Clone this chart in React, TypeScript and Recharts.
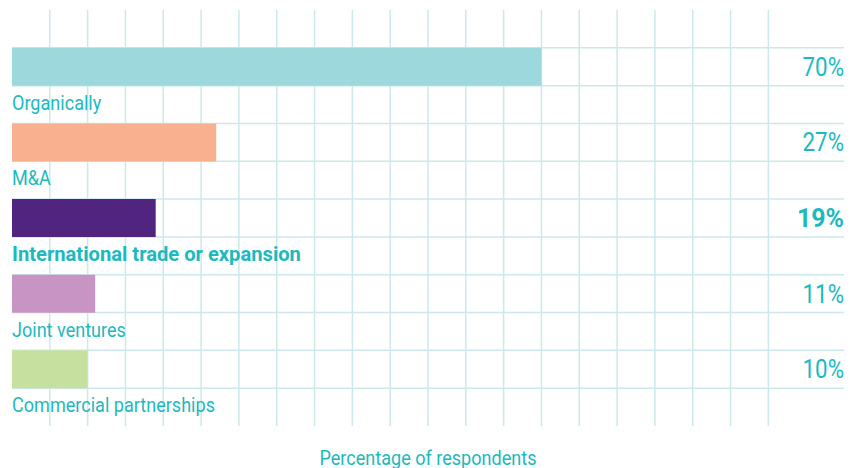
import React from 'react';
import { BarChart, Bar, XAxis, YAxis, CartesianGrid, Cell, LabelList, Label } from 'recharts';

const categories = ['Organically', 'M&A', 'International trade or expansion', 'Joint ventures', 'Commercial partnerships'];
const shares = [70, 27, 19, 11, 10];
const barColors = ['#9dd8dc', '#f8b08f', '#51247f', '#c894c3', '#c6e09f'];
const highlightIndex = 2;
const xTicks = [5, 10, 15, 20, 25, 30, 35, 40, 45, 50, 55, 60, 65, 70, 75, 80, 85, 90, 95, 100];
const X_MAX = 110;

const data = categories.map((name, i) => ({ name, share: shares[i], spacer: 0 }));

const WIDTH = 854;
const HEIGHT = 468;
const MARGIN = { top: 10, right: 10, left: 12, bottom: 0 };
const AXIS_HEIGHT = 42;
const ROWS = 11; // grid cells down the plot
const ROW = (HEIGHT - MARGIN.top - MARGIN.bottom - AXIS_HEIGHT) / ROWS;
const PLOT_RIGHT = WIDTH - MARGIN.right;

const TEAL = '#1cb9be';
const FONT = 'Roboto, sans-serif';
// the original face is a condensed grotesque, so squeeze Roboto sideways
const SQUEEZE = 0.86;
const SQUEEZE_BOLD = 0.96;

const NarrowText = ({ x, y, anchor = 'start', size, bold, children }: any) => (
  <text transform={`translate(${x},${y}) scale(${bold ? SQUEEZE_BOLD : SQUEEZE},1)`} fill={TEAL}
    fontSize={size} fontFamily={FONT} textAnchor={anchor} fontWeight={bold ? 'bold' : 'normal'}>
    {children}
  </text>
);

const NameLabel = (props: any) => {
  const { x, y, height, index, value } = props;
  return <NarrowText x={x} y={y + height + 24} size={21} bold={index === highlightIndex}>{value}</NarrowText>;
};

const ShareLabel = (props: any) => {
  const { y, index, value } = props;
  return (
    <NarrowText x={PLOT_RIGHT} y={y + 28} size={26} anchor="end" bold={index === highlightIndex}>
      {value}%
    </NarrowText>
  );
};

const AxisTitle = (props: any) => {
  const { viewBox } = props;
  return (
    <NarrowText x={viewBox.x + viewBox.width / 2} y={viewBox.y + viewBox.height - 3} size={21} anchor="middle">
      Percentage of respondents
    </NarrowText>
  );
};

export default function App() {
  return (
    <div style={{ margin: '-8px -8px 0', width: WIDTH, height: HEIGHT, background: '#fff' }}>
      <BarChart width={WIDTH} height={HEIGHT} data={data} layout="vertical" margin={MARGIN}
        barCategoryGap={0} barGap={0}>
        <CartesianGrid stroke="#cde8eb" strokeWidth={1.5}
          horizontalCoordinatesGenerator={({ offset }: any) =>
            Array.from({ length: ROWS - 1 }, (_, k) => offset.top + (k + 1) * ROW)}
          verticalCoordinatesGenerator={({ offset }: any) =>
            xTicks.map((t) => offset.left + (t / X_MAX) * offset.width)} />
        <XAxis type="number" domain={[0, X_MAX]} ticks={xTicks} tick={false} axisLine={false} tickLine={false}
          height={AXIS_HEIGHT}>
          <Label content={AxisTitle} position="insideBottom" />
        </XAxis>
        <YAxis type="category" dataKey="name" hide padding={{ top: ROW, bottom: 0 }} />
        <Bar dataKey="share" isAnimationActive={false}>
          {data.map((d, i) => <Cell key={d.name} fill={barColors[i]} />)}
          <LabelList dataKey="name" content={NameLabel} />
          <LabelList dataKey="share" content={ShareLabel} />
        </Bar>
        <Bar dataKey="spacer" fill="transparent" isAnimationActive={false} />
      </BarChart>
    </div>
  );
}
